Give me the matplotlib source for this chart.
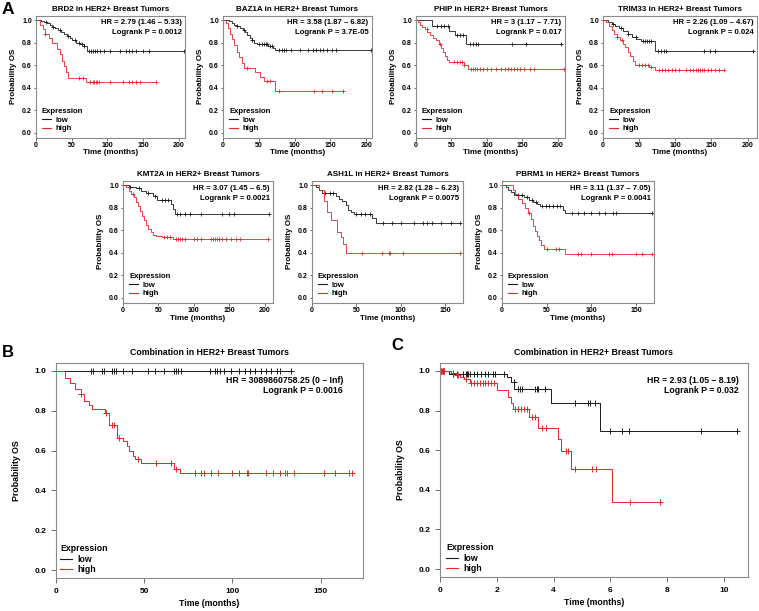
import numpy as np
import matplotlib
matplotlib.use('Agg')
import matplotlib.pyplot as plt
from matplotlib.lines import Line2D
from matplotlib.ticker import MultipleLocator, FormatStrFormatter

# ---- data (event times / survival after event / censor times) ----
# BRD2
brd2_low_t = [7, 11, 15, 19, 23, 27, 31, 35, 39, 43, 47, 51, 56, 62, 67, 71]
brd2_low_s = [0.99, 0.98, 0.97, 0.955, 0.94, 0.925, 0.91, 0.895, 0.88, 0.86, 0.84, 0.82, 0.80, 0.79, 0.77, 0.725]
brd2_low_c = [14, 24, 33, 45, 55, 60, 64, 68, 74, 77, 80, 83, 86, 90, 96, 104, 118, 126, 130, 134, 140, 150, 158, 207]
brd2_high_t = [6, 10, 13, 18, 23, 29, 33, 36, 39, 42, 45, 70]
brd2_high_s = [0.96, 0.92, 0.88, 0.84, 0.80, 0.74, 0.70, 0.64, 0.59, 0.54, 0.49, 0.455]
brd2_high_c = [13, 60, 66, 76, 80, 82, 84, 86, 89, 104, 122, 130, 134, 140, 146, 168]
# BAZ1A
baz1a_low_t = [8, 12, 16, 20, 24, 28, 31, 34, 37, 40, 43, 47, 63, 70, 73]
baz1a_low_s = [0.99, 0.975, 0.96, 0.945, 0.93, 0.91, 0.89, 0.87, 0.845, 0.82, 0.80, 0.785, 0.77, 0.75, 0.735]
baz1a_low_c = [20, 30, 40, 50, 54, 57, 60, 62, 65, 68, 78, 82, 85, 88, 95, 108, 118, 125, 130, 135, 140, 145, 152, 158, 207]
baz1a_high_t = [4, 7, 10, 13, 16, 19, 23, 27, 30, 45, 52, 57, 73]
baz1a_high_s = [0.97, 0.93, 0.88, 0.83, 0.78, 0.72, 0.67, 0.62, 0.575, 0.54, 0.50, 0.46, 0.37]
baz1a_high_c = [33, 62, 66, 78, 127, 138, 152, 168]
# PHIP
phip_low_t = [23, 47, 55, 71]
phip_low_s = [0.945, 0.90, 0.865, 0.79]
phip_low_c = [30, 35, 40, 45, 58, 62, 66, 76, 80, 84, 87, 135, 155, 205]
phip_high_t = [3, 6, 9, 12, 16, 20, 24, 28, 32, 35, 38, 41, 44, 47, 67, 73]
phip_high_s = [0.98, 0.96, 0.94, 0.92, 0.89, 0.87, 0.84, 0.82, 0.79, 0.75, 0.72, 0.68, 0.65, 0.625, 0.60, 0.565]
phip_high_c = [15, 34, 54, 58, 62, 65, 68, 77, 80, 83, 86, 90, 95, 100, 105, 113, 120, 125, 130, 134, 138,
               142, 147, 152, 160, 167, 208]
# TRIM33
trim33_low_t = [7, 12, 17, 22, 28, 34, 40, 46, 52, 72]
trim33_low_s = [0.985, 0.965, 0.945, 0.925, 0.90, 0.875, 0.85, 0.83, 0.81, 0.73]
trim33_low_c = [14, 25, 35, 45, 55, 58, 61, 64, 67, 76, 80, 84, 87, 140, 148, 155, 208]
trim33_high_t = [4, 8, 12, 15, 19, 23, 27, 31, 35, 38, 41, 44, 64, 72]
trim33_high_s = [0.98, 0.95, 0.91, 0.88, 0.85, 0.82, 0.79, 0.76, 0.72, 0.68, 0.64, 0.60, 0.585, 0.56]
trim33_high_c = [20, 26, 50, 54, 58, 62, 66, 78, 82, 86, 90, 95, 100, 105, 115, 120, 125, 128, 131, 134,
                 137, 140, 145, 150, 155, 160, 168]
# KMT2A
kmt2a_low_t = [8, 18, 25, 33, 42, 48, 68, 70, 73]
kmt2a_low_s = [0.985, 0.97, 0.95, 0.93, 0.90, 0.87, 0.83, 0.79, 0.745]
kmt2a_low_c = [10, 22, 35, 45, 55, 60, 64, 76, 80, 87, 95, 110, 140, 150, 157, 207]
kmt2a_high_t = [4, 8, 12, 15, 18, 21, 24, 27, 30, 33, 36, 39, 42, 46, 55, 70]
kmt2a_high_s = [0.98, 0.95, 0.92, 0.89, 0.85, 0.81, 0.77, 0.73, 0.69, 0.65, 0.61, 0.58, 0.56, 0.55, 0.54, 0.525]
kmt2a_high_c = [14, 58, 62, 66, 75, 78, 81, 84, 87, 100, 105, 110, 124, 127, 130, 133, 136, 140, 145, 152,
                160, 165, 205]
# ASH1L
ash1l_low_t = [4, 8, 11, 27, 30, 34, 38, 41, 44, 47, 68, 72]
ash1l_low_s = [0.985, 0.96, 0.925, 0.90, 0.88, 0.86, 0.82, 0.78, 0.76, 0.74, 0.71, 0.665]
ash1l_low_c = [15, 20, 24, 50, 55, 60, 65, 80, 90, 100, 115, 125, 130, 135, 145, 157, 167]
ash1l_high_t = [8, 13, 17, 21, 28, 33, 35, 38]
ash1l_high_s = [0.96, 0.86, 0.76, 0.69, 0.58, 0.54, 0.48, 0.40]
ash1l_high_c = [56, 79, 87, 88, 103, 167]
# PBRM1
pbrm1_low_t = [4, 7, 10, 13, 25, 30, 35, 39, 42, 68, 70]
pbrm1_low_s = [0.985, 0.96, 0.935, 0.91, 0.89, 0.87, 0.85, 0.83, 0.81, 0.78, 0.755]
pbrm1_low_c = [18, 22, 28, 33, 38, 45, 49, 53, 57, 61, 65, 78, 85, 92, 100, 108, 115, 124, 127, 168]
pbrm1_high_t = [12, 15, 18, 22, 26, 29, 32, 35, 37, 39, 41, 44, 47, 70]
pbrm1_high_s = [0.96, 0.92, 0.88, 0.84, 0.80, 0.75, 0.70, 0.64, 0.59, 0.55, 0.51, 0.47, 0.43, 0.385]
pbrm1_high_c = [30, 50, 60, 64, 85, 88, 100, 120, 123, 150, 157, 168]
# Combination (B), months
comb_low_t = []
comb_low_s = []
comb_low_c = [20, 21, 26, 27, 32, 33, 34, 38, 43, 52, 56, 61, 67, 68, 69, 71, 87, 90, 91, 93, 95, 99, 104,
              107, 110, 113, 116, 119, 122, 125, 127, 133]
comb_high_t = [5, 8, 11, 14, 16, 18.5, 20.5, 27.5, 30, 34.5, 38, 40.5, 41.5, 43.5, 45, 48, 67, 70.5]
comb_high_s = [0.965, 0.94, 0.91, 0.885, 0.85, 0.83, 0.81, 0.79, 0.73, 0.665, 0.648, 0.625, 0.597, 0.575,
               0.56, 0.54, 0.51, 0.485]
comb_high_c = [14.3, 28.6, 32, 33, 35.5, 46.3, 56.5, 65.3, 68, 79, 82, 84, 88, 92, 100, 104, 108, 109, 119,
               123, 127, 130, 131, 135, 152, 158, 166, 167.5]
# Combination (C)
combc_low_t = [0.3, 2.35, 2.5, 2.62, 3.92, 5.62]
combc_low_s = [0.985, 0.97, 0.946, 0.909, 0.837, 0.698]
combc_low_c = [0.05, 0.1, 0.15, 0.45, 0.6, 0.8, 0.9, 0.95, 1.0, 1.05, 1.2, 1.3, 1.45, 1.6, 1.7, 1.85, 1.95,
               2.25, 2.6, 2.75, 2.82, 2.88, 3.35, 3.4, 3.45, 3.7, 4.75, 5.2, 5.3, 5.45, 6.0, 6.4, 6.65, 9.2, 10.45]
combc_high_t = [0.4, 0.55, 0.7, 0.85, 1.05, 2.0, 2.4, 2.5, 2.57, 3.15, 3.45, 4.15, 4.27, 4.62, 6.05]
combc_high_s = [0.99, 0.98, 0.97, 0.96, 0.938, 0.904, 0.87, 0.84, 0.807, 0.765, 0.71, 0.655, 0.594, 0.507, 0.34]
combc_high_c = [0.03, 0.06, 0.1, 0.15, 0.45, 0.6, 0.65, 0.9, 1.1, 1.2, 1.3, 1.4, 1.5, 1.6, 1.7, 1.8, 1.9,
                2.65, 2.75, 2.85, 2.95, 3.05, 3.25, 3.35, 3.6, 3.75, 4.45, 4.5, 4.75, 5.35, 5.5, 6.7, 7.75]

genes = ['BRD2', 'BAZ1A', 'PHIP', 'TRIM33', 'KMT2A', 'ASH1L', 'PBRM1']
hr_labels = ['HR = 2.79 (1.46 \u2013 5.33)', 'HR = 3.58 (1.87 \u2013 6.82)', 'HR = 3 (1.17 \u2013 7.71)',
             'HR = 2.26 (1.09 \u2013 4.67)', 'HR = 3.07 (1.45 \u2013 6.5)', 'HR = 2.82 (1.28 \u2013 6.23)',
             'HR = 3.11 (1.37 \u2013 7.05)']
p_labels = ['Logrank P = 0.0012', 'Logrank P = 3.7E-05', 'Logrank P = 0.017', 'Logrank P = 0.024',
            'Logrank P = 0.0021', 'Logrank P = 0.0075', 'Logrank P = 0.0041']

plt.rcParams['font.family'] = ['Liberation Sans', 'DejaVu Sans']
plt.rcParams['font.weight'] = 'bold'

W, H = 759, 611
fig = plt.figure(figsize=(W / 100, H / 100), dpi=100)
RED = '#e5262b'
BLACK = '#1a1a1a'


def px_axes(l, t, r, b):
    return fig.add_axes([l / W, 1 - b / H, (r - l) / W, (b - t) / H])


def surv_at(times, surv, c):
    i = np.searchsorted(times, c, side='right')
    return 1.0 if i == 0 else surv[i - 1]


def draw_group(ax, times, surv, cens, color, lw, ms):
    end = max(list(times) + list(cens))
    x = [0] + list(times) + [end]
    y = [1.0] + list(surv) + [surv[-1] if surv else 1.0]
    ax.step(x, y, where='post', color=color, lw=lw)
    cy = [surv_at(times, surv, c) for c in cens]
    ax.plot(cens, cy, ls='none', marker='+', color=color, ms=ms, mew=lw)


def panel(box, low, high, title, xmax, xstep, big=False):
    l, t, r, b = box
    ax = px_axes(l, t, r, b)
    wpx, hpx = r - l, b - t
    lw = 0.7 if big else 0.6
    ms = 4.5 if big else 3
    draw_group(ax, *low, BLACK, lw, ms)
    draw_group(ax, *high, RED, lw, ms)
    ax.set_xlim(0, xmax)
    ax.set_ylim(-0.04, 1.04)
    ax.xaxis.set_major_locator(MultipleLocator(xstep))
    ax.yaxis.set_major_locator(MultipleLocator(0.2))
    ax.yaxis.set_major_formatter(FormatStrFormatter('%.1f'))
    fs = 6.3 if big else 5.8
    tfs = 6.0 if big else 5.0
    for s in ax.spines.values():
        s.set_color('#8a8a8a')
        s.set_linewidth(0.8)
    if big:
        ax.tick_params(length=3.6, width=0.6, color='#555555', labelsize=tfs, pad=3.5)
    else:
        ax.tick_params(length=1.8, width=0.6, color='#555555', labelsize=tfs, pad=1.2)
    for lab in ax.get_xticklabels() + ax.get_yticklabels():
        lab.set_fontweight('bold')
    ax.set_title(title, fontsize=fs, fontweight='bold', pad=6 if big else 3.5)
    ax.set_xlabel('Time (months)', fontsize=fs, fontweight='bold')
    ax.set_ylabel('Probability OS', fontsize=fs, fontweight='bold')
    if big:
        ax.xaxis.set_label_coords(0.5, -21 / hpx)
        ax.yaxis.set_label_coords(-35 / wpx, 0.5)
    else:
        ax.xaxis.set_label_coords(0.5, -12 / hpx)
        ax.yaxis.set_label_coords(-19 / wpx, 0.5)
    return ax, wpx, hpx


def hr_text(ax, hr, pl, xr, y1, y2, fs):
    ax.text(xr, y1, hr, transform=ax.transAxes, ha='right', va='center', fontsize=fs, fontweight='bold')
    ax.text(xr, y2, pl, transform=ax.transAxes, ha='right', va='center', fontsize=fs, fontweight='bold')


def legend(ax, fs, anchor, hlen):
    handles = [Line2D([], [], color=BLACK, lw=0.8), Line2D([], [], color=RED, lw=0.8)]
    ax.legend(handles, ['low', 'high'], title='Expression', loc='lower left', bbox_to_anchor=anchor,
              frameon=False, fontsize=fs, title_fontproperties={'size': fs, 'weight': 'bold'},
              alignment='left', handlelength=hlen, handletextpad=0.6, labelspacing=0.15,
              borderpad=0, borderaxespad=0)


small_boxes = [(36, 15.5, 185, 137.5), (223, 15.5, 372, 137.5), (416, 15.5, 565, 137.5), (603, 15.5, 757, 137.5),
               (123, 180.5, 273, 302.5), (312, 180.5, 463, 302.5), (502, 180.5, 654, 302.5)]
small_xmax = [209, 208, 210, 213, 212, 170, 170]
small_data = [
    ((brd2_low_t, brd2_low_s, brd2_low_c), (brd2_high_t, brd2_high_s, brd2_high_c)),
    ((baz1a_low_t, baz1a_low_s, baz1a_low_c), (baz1a_high_t, baz1a_high_s, baz1a_high_c)),
    ((phip_low_t, phip_low_s, phip_low_c), (phip_high_t, phip_high_s, phip_high_c)),
    ((trim33_low_t, trim33_low_s, trim33_low_c), (trim33_high_t, trim33_high_s, trim33_high_c)),
    ((kmt2a_low_t, kmt2a_low_s, kmt2a_low_c), (kmt2a_high_t, kmt2a_high_s, kmt2a_high_c)),
    ((ash1l_low_t, ash1l_low_s, ash1l_low_c), (ash1l_high_t, ash1l_high_s, ash1l_high_c)),
    ((pbrm1_low_t, pbrm1_low_s, pbrm1_low_c), (pbrm1_high_t, pbrm1_high_s, pbrm1_high_c)),
]

for i, g in enumerate(genes):
    low, high = small_data[i]
    ax, wpx, hpx = panel(small_boxes[i], low, high, g + ' in HER2+ Breast Tumors', small_xmax[i], 50)
    hr_text(ax, hr_labels[i], p_labels[i], 1 - 3.5 / wpx, 1 - 7.5 / hpx, 1 - 17.5 / hpx, 5.6)
    legend(ax, 5.6, (6 / wpx, 5 / hpx), 1.1)

# B
ax, wpx, hpx = panel((56, 363, 363, 578), (comb_low_t, comb_low_s, comb_low_c),
                     (comb_high_t, comb_high_s, comb_high_c), 'Combination in HER2+ Breast Tumors', 174, 50,
                     big=True)
hr_text(ax, 'HR = 3089860758.25 (0 \u2013 Inf)', 'Logrank P = 0.0016', 1 - 20 / wpx, 1 - 17.7 / hpx,
        1 - 27.7 / hpx, 6.3)
legend(ax, 6.3, (4 / wpx, 4 / hpx), 1.4)

# C
ax, wpx, hpx = panel((440, 363, 748, 577), (combc_low_t, combc_low_s, combc_low_c),
                     (combc_high_t, combc_high_s, combc_high_c), 'Combination in HER2+ Breast Tumors', 10.85, 2,
                     big=True)
hr_text(ax, 'HR = 2.93 (1.05 \u2013 8.19)', 'Logrank P = 0.032', 1 - 9 / wpx, 1 - 17.7 / hpx, 1 - 27.7 / hpx, 6.3)
legend(ax, 6.3, (6 / wpx, 4 / hpx), 1.4)

fig.text(2 / W, 1 - 9.5 / H, 'A', fontsize=12.5, fontweight='bold', va='center', ha='left')
fig.text(2 / W, 1 - 352.5 / H, 'B', fontsize=12, fontweight='bold', va='center', ha='left')
fig.text(391 / W, 1 - 345.5 / H, 'C', fontsize=12, fontweight='bold', va='center', ha='left')

fig.savefig('out.png', dpi=100)
